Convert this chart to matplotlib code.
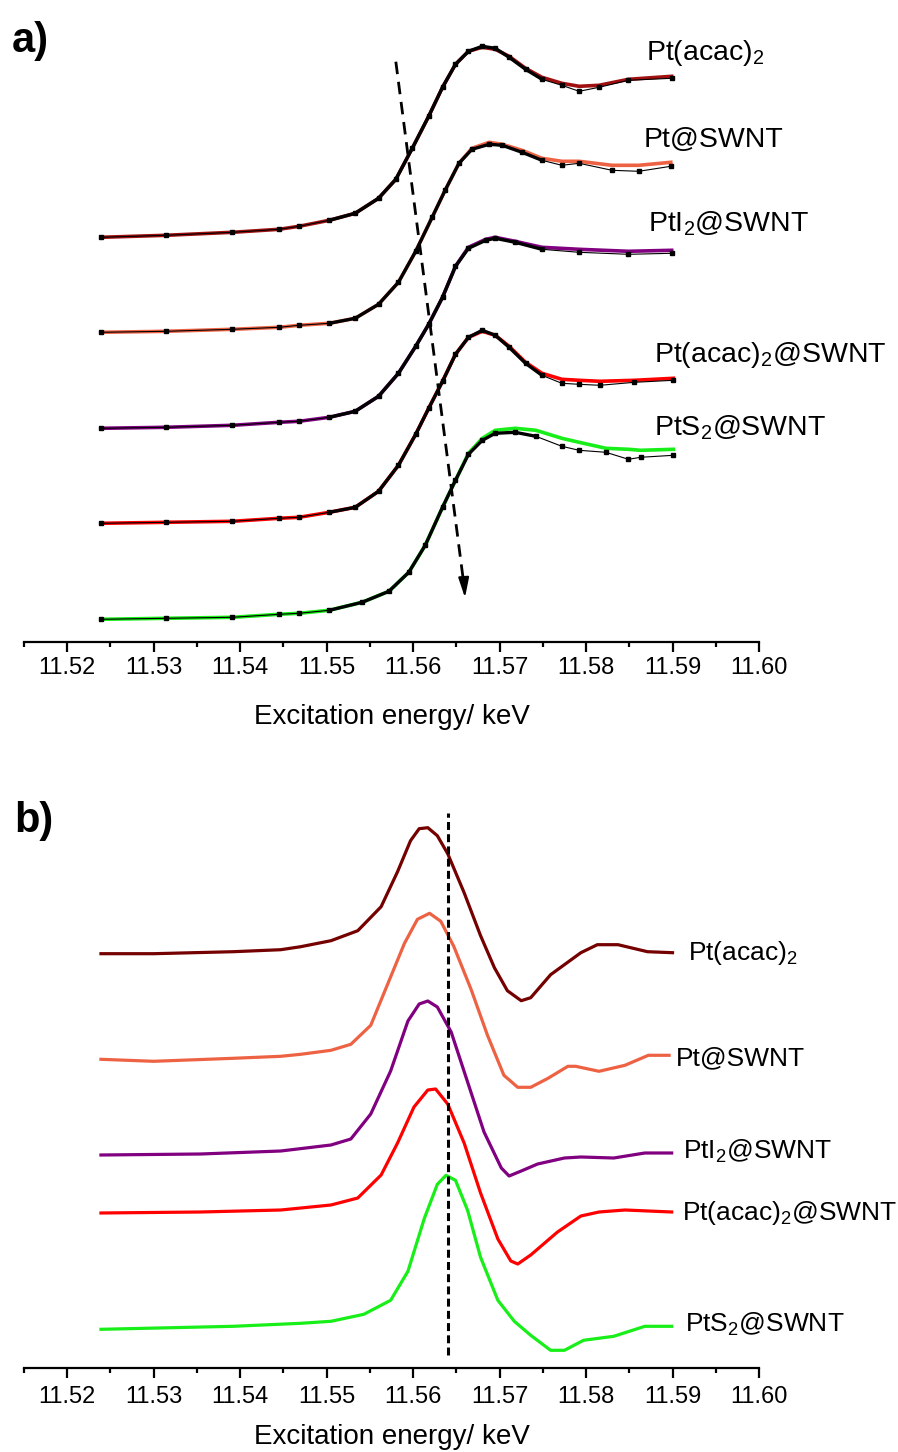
import matplotlib
matplotlib.use("Agg")
import matplotlib.pyplot as plt
from matplotlib.ticker import MultipleLocator, FormatStrFormatter

plt.rcParams['font.family'] = ['Liberation Sans', 'DejaVu Sans']
plt.rcParams['mathtext.fontset'] = 'custom'
plt.rcParams['mathtext.rm'] = 'Liberation Sans'
plt.rcParams['mathtext.it'] = 'Liberation Sans:italic'

# ---------------- panel a: normalised XANES (fit + data) ----------------
names_a = [r'Pt(acac)$_2$', 'Pt@SWNT', r'PtI$_2$@SWNT', r'Pt(acac)$_2$@SWNT', r'PtS$_2$@SWNT']
colors_a = ['#a01010', '#ee6244', '#800080', '#ff0000', '#18ee18']
offsets_a = [4.044, 3.094, 2.134, 1.184, 0.224]

e_a1 = [11.5239, 11.5314, 11.5391, 11.5445, 11.5468, 11.5503, 11.5533, 11.5560, 11.5580,
        11.5599, 11.5618, 11.5634, 11.5649, 11.5664, 11.5680, 11.5695, 11.5711, 11.5730,
        11.5749, 11.5772, 11.5792, 11.5815, 11.5849, 11.5899]
fit_a1 = [0.00, 0.02, 0.05, 0.08, 0.11, 0.17, 0.24, 0.39, 0.58, 0.89, 1.21, 1.50, 1.73,
          1.86, 1.90, 1.88, 1.81, 1.69, 1.60, 1.54, 1.51, 1.52, 1.58, 1.61]
dat_a1 = [0.00, 0.02, 0.05, 0.08, 0.11, 0.17, 0.24, 0.39, 0.58, 0.89, 1.21, 1.50, 1.73,
          1.86, 1.91, 1.89, 1.80, 1.68, 1.58, 1.52, 1.46, 1.50, 1.57, 1.59]

e_a2 = [11.5239, 11.5314, 11.5391, 11.5445, 11.5468, 11.5503, 11.5533, 11.5560, 11.5583,
        11.5603, 11.5622, 11.5637, 11.5653, 11.5668, 11.5688, 11.5703, 11.5726, 11.5749,
        11.5772, 11.5792, 11.5830, 11.5861, 11.5898]
fit_a2 = [0.00, 0.01, 0.03, 0.05, 0.07, 0.09, 0.14, 0.28, 0.50, 0.81, 1.15, 1.42, 1.69,
          1.84, 1.90, 1.88, 1.82, 1.74, 1.71, 1.71, 1.67, 1.67, 1.70]
dat_a2 = [0.00, 0.01, 0.03, 0.05, 0.07, 0.09, 0.14, 0.28, 0.50, 0.81, 1.15, 1.42, 1.69,
          1.83, 1.88, 1.87, 1.80, 1.72, 1.67, 1.69, 1.62, 1.61, 1.66]

e_a3 = [11.5239, 11.5314, 11.5391, 11.5445, 11.5468, 11.5503, 11.5533, 11.5560, 11.5583,
        11.5603, 11.5618, 11.5634, 11.5649, 11.5664, 11.5684, 11.5695, 11.5718, 11.5749,
        11.5792, 11.5849, 11.5899]
fit_a3 = [0.00, 0.01, 0.03, 0.06, 0.07, 0.11, 0.17, 0.32, 0.55, 0.82, 1.04, 1.31, 1.62,
          1.81, 1.89, 1.91, 1.87, 1.81, 1.79, 1.77, 1.78]
dat_a3 = [0.00, 0.01, 0.03, 0.06, 0.07, 0.11, 0.17, 0.32, 0.55, 0.82, 1.04, 1.31, 1.62,
          1.80, 1.88, 1.90, 1.86, 1.79, 1.76, 1.74, 1.75]

e_a4 = [11.5239, 11.5314, 11.5391, 11.5445, 11.5468, 11.5503, 11.5533, 11.5560, 11.5583,
        11.5603, 11.5618, 11.5634, 11.5649, 11.5664, 11.5680, 11.5695, 11.5711, 11.5730,
        11.5749, 11.5772, 11.5792, 11.5816, 11.5856, 11.5901]
fit_a4 = [0.00, 0.01, 0.02, 0.05, 0.06, 0.11, 0.16, 0.32, 0.58, 0.89, 1.15, 1.42, 1.69,
          1.86, 1.92, 1.88, 1.77, 1.61, 1.50, 1.44, 1.43, 1.42, 1.43, 1.45]
dat_a4 = [0.00, 0.01, 0.02, 0.05, 0.06, 0.11, 0.16, 0.32, 0.58, 0.89, 1.15, 1.42, 1.69,
          1.86, 1.93, 1.88, 1.76, 1.60, 1.48, 1.40, 1.39, 1.38, 1.41, 1.43]

e_a5 = [11.5239, 11.5314, 11.5391, 11.5445, 11.5468, 11.5503, 11.5541, 11.5572, 11.5595,
        11.5614, 11.5634, 11.5649, 11.5664, 11.5680, 11.5695, 11.5718, 11.5742, 11.5772,
        11.5792, 11.5823, 11.5849, 11.5863, 11.5901]
fit_a5 = [0.00, 0.01, 0.02, 0.05, 0.06, 0.09, 0.17, 0.28, 0.47, 0.74, 1.12, 1.39, 1.66,
          1.81, 1.89, 1.91, 1.89, 1.81, 1.77, 1.71, 1.70, 1.69, 1.70]
dat_a5 = [0.00, 0.01, 0.02, 0.05, 0.06, 0.09, 0.17, 0.28, 0.47, 0.74, 1.12, 1.39, 1.65,
          1.79, 1.86, 1.87, 1.83, 1.73, 1.69, 1.67, 1.60, 1.62, 1.64]

energies_a = [e_a1, e_a2, e_a3, e_a4, e_a5]
fits_a = [fit_a1, fit_a2, fit_a3, fit_a4, fit_a5]
data_a = [dat_a1, dat_a2, dat_a3, dat_a4, dat_a5]

# label anchors (energy, baseline height) for panel a
label_e_a = [11.5869, 11.5867, 11.5872, 11.5878, 11.5878]
label_y_a = [5.82, 4.95, 4.10, 2.80, 2.06]

# ---------------- panel b: first derivatives ----------------
names_b = [r'Pt(acac)$_2$', 'Pt@SWNT', r'PtI$_2$@SWNT', r'Pt(acac)$_2$@SWNT', r'PtS$_2$@SWNT']
colors_b = ['#740000', '#ee6244', '#800080', '#ff0000', '#18ee18']
offsets_b = [4.14, 3.084, 2.127, 1.547, 0.384]

e_b1 = [11.5239, 11.5300, 11.5392, 11.5447, 11.5470, 11.5505, 11.5536, 11.5563, 11.5582,
        11.5597, 11.5607, 11.5617, 11.5628, 11.5640, 11.5659, 11.5678, 11.5694, 11.5709,
        11.5725, 11.5736, 11.5759, 11.5794, 11.5813, 11.5837, 11.5871, 11.5900]
d_b1 = [0.00, 0.00, 0.02, 0.04, 0.07, 0.13, 0.23, 0.47, 0.82, 1.13, 1.25, 1.26, 1.18,
        1.00, 0.61, 0.18, -0.14, -0.37, -0.47, -0.44, -0.21, 0.01, 0.09, 0.09, 0.02, 0.01]

e_b2 = [11.5239, 11.5300, 11.5392, 11.5447, 11.5470, 11.5505, 11.5528, 11.5551, 11.5570,
        11.5590, 11.5605, 11.5619, 11.5632, 11.5647, 11.5667, 11.5686, 11.5705, 11.5721,
        11.5736, 11.5756, 11.5779, 11.5788, 11.5815, 11.5845, 11.5872, 11.5896]
d_b2 = [0.00, -0.02, 0.01, 0.03, 0.05, 0.09, 0.15, 0.34, 0.74, 1.16, 1.40, 1.46, 1.38,
        1.13, 0.70, 0.24, -0.16, -0.28, -0.28, -0.19, -0.07, -0.07, -0.12, -0.06, 0.04,
        0.04]

e_b3 = [11.5239, 11.5354, 11.5447, 11.5505, 11.5528, 11.5551, 11.5574, 11.5594, 11.5607,
        11.5617, 11.5628, 11.5644, 11.5663, 11.5682, 11.5702, 11.5711, 11.5725, 11.5744,
        11.5775, 11.5794, 11.5832, 11.5868, 11.5899]
d_b3 = [0.00, 0.01, 0.04, 0.10, 0.16, 0.41, 0.84, 1.34, 1.51, 1.54, 1.48, 1.23, 0.73,
        0.23, -0.13, -0.21, -0.16, -0.09, -0.03, -0.02, -0.03, 0.02, 0.02]

e_b4 = [11.5239, 11.5354, 11.5447, 11.5505, 11.5536, 11.5563, 11.5582, 11.5601, 11.5617,
        11.5626, 11.5640, 11.5659, 11.5678, 11.5698, 11.5713, 11.5721, 11.5736, 11.5767,
        11.5794, 11.5815, 11.5845, 11.5899]
d_b4 = [0.00, 0.01, 0.03, 0.08, 0.15, 0.38, 0.70, 1.06, 1.23, 1.24, 1.09, 0.70, 0.20,
        -0.26, -0.48, -0.51, -0.42, -0.19, -0.03, 0.01, 0.03, 0.01]

e_b5 = [11.5239, 11.5392, 11.5470, 11.5505, 11.5543, 11.5574, 11.5594, 11.5613, 11.5628,
        11.5638, 11.5649, 11.5663, 11.5678, 11.5698, 11.5717, 11.5736, 11.5759, 11.5775,
        11.5797, 11.5832, 11.5868, 11.5899]
d_b5 = [0.00, 0.03, 0.06, 0.08, 0.15, 0.29, 0.58, 1.11, 1.45, 1.54, 1.49, 1.19, 0.72,
        0.29, 0.08, -0.06, -0.21, -0.21, -0.11, -0.07, 0.03, 0.03]

energies_b = [e_b1, e_b2, e_b3, e_b4, e_b5]
derivs_b = [d_b1, d_b2, d_b3, d_b4, d_b5]

label_e_b = [11.5918, 11.5904, 11.5912, 11.5911, 11.5914]
label_y_b = [4.08, 3.02, 2.09, 1.48, 0.36]

edge_b = 11.564   # dashed reference line in panel b

ticks = [11.52, 11.53, 11.54, 11.55, 11.56, 11.57, 11.58, 11.59, 11.60]

fig = plt.figure(figsize=(8.98, 14.52), dpi=100)
W, H = 898.0, 1452.0
ax_a = fig.add_axes([24 / W, (H - 641.7) / H, 735 / W, 631.7 / H])
ax_b = fig.add_axes([24 / W, (H - 1367.7) / H, 735 / W, 577.7 / H])


def style_axis(ax, ytop, tickpad, labelpad):
    ax.set_xlim(11.515, 11.600)
    ax.set_ylim(0, ytop)
    for s in ['left', 'right', 'top']:
        ax.spines[s].set_visible(False)
    ax.spines['bottom'].set_linewidth(1.6)
    ax.set_yticks([])
    ax.set_xticks(ticks)
    ax.xaxis.set_minor_locator(MultipleLocator(0.005))
    ax.xaxis.set_major_formatter(FormatStrFormatter('%.2f'))
    ax.tick_params(axis='x', which='major', length=7.5, width=1.6, labelsize=17, pad=tickpad)
    ax.tick_params(axis='x', which='minor', length=3.5, width=1.6)
    ax.set_xlabel('Excitation energy/ keV', fontsize=20, labelpad=labelpad)
    ax.patch.set_alpha(0)


# panel a
for e, fit, dat, off, c, name, lx, ly in zip(energies_a, fits_a, data_a, offsets_a, colors_a,
                                              names_a, label_e_a, label_y_a):
    ax_a.plot(e, [v + off for v in fit], color=c, lw=2.6, zorder=2, solid_joinstyle='round')
    ax_a.plot(e, [v + off for v in dat], color='k', lw=0.8, marker='s', ms=2.2, zorder=3)
    edge = [i for i, x in enumerate(e) if 11.5495 <= x <= 11.5760]
    ax_a.plot([e[i] for i in edge], [dat[i] + off for i in edge], color='k', lw=2.4,
              zorder=3, solid_joinstyle='round')
    ax_a.text(lx, ly, name, fontsize=20.5, ha='left', va='baseline')

# dashed arrow showing the edge shift
ax_a.plot([11.5580, 11.5658], [5.80, 0.62], color='k', lw=2.0, ls=(0, (4.5, 2.8)), zorder=4)
ax_a.annotate('', xy=(11.5660, 0.44), xytext=(11.56585, 0.64),
              arrowprops=dict(arrowstyle='-|>,head_length=1.2,head_width=0.32',
                              color='k', lw=1.5, shrinkA=0, shrinkB=0), zorder=5)
style_axis(ax_a, 6.317, 3.5, 18)

# panel b
for e, d, off, c, name, lx, ly in zip(energies_b, derivs_b, offsets_b, colors_b,
                                       names_b, label_e_b, label_y_b):
    ax_b.plot(e, [v + off for v in d], color=c, lw=2.3, solid_joinstyle='round')
    ax_b.text(lx, ly, name, fontsize=19, ha='left', va='baseline')

ax_b.plot([edge_b, edge_b], [0.13, 5.55], color='k', lw=2.2, ls=(0, (2.6, 1.4)))
style_axis(ax_b, 5.777, 5.5, 12)

fig.text(12 / W, 1 - 52 / H, 'a)', fontsize=30, fontweight='bold', ha='left', va='baseline')
fig.text(14 / W, 1 - 832 / H, 'b)', fontsize=30, fontweight='bold', ha='left', va='baseline')

fig.savefig('out.png', dpi=100)
